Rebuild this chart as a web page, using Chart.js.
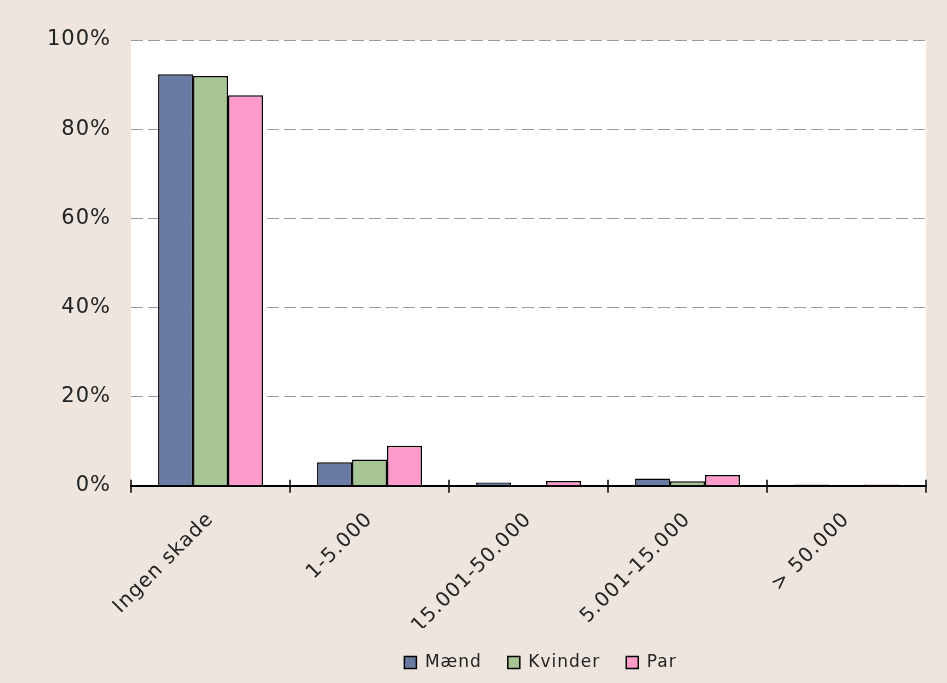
<!DOCTYPE html>
<html>
<head>
<meta charset="utf-8">
<script src="https://cdn.jsdelivr.net/npm/chart.js@4"></script>
<style>
  html, body { margin: 0; padding: 0; background: #EEE6DE; }
  #wrap { width: 947px; height: 683px; }
</style>
</head>
<body>
<div id="wrap"><canvas id="myChart" width="947" height="683"></canvas></div>
<script>
const kategorier = ['Ingen skade', '1-5.000', '15.001-50.000', '5.001-15.000', '> 50.000'];
const maend = [92.3, 5.3, 0.75, 1.65, 0.3];
const kvinder = [91.9, 5.9, 0.2, 1.0, 0.1];
const par = [87.6, 9.0, 1.05, 2.4, 0.3];
const yTicks = [0, 20, 40, 60, 80, 100];

// hvid plotflade, lidt bredere tekst og streger ved kategorigrænser
const plotBaggrund = {
  id: 'plotBaggrund',
  beforeUpdate(chart) { chart.ctx.letterSpacing = '1px'; },
  afterLayout(chart) {
    // legenden lidt til højre, ca. midt under plotfladen
    const lg = chart.legend;
    const ca = chart.chartArea;
    const skift = (ca.left + ca.right) / 2 + 12 - (lg.left + lg.right) / 2;
    lg.left += skift;
    lg.right += skift;
  },
  beforeDraw(chart) {
    const { ctx, chartArea } = chart;
    ctx.letterSpacing = '1px';
    ctx.save();
    ctx.fillStyle = '#ffffff';
    ctx.fillRect(chartArea.left, chartArea.top, chartArea.right - chartArea.left, chartArea.bottom - chartArea.top);
    ctx.restore();
  },
  afterDraw(chart) {
    const { ctx, scales } = chart;
    const x = scales.x;
    const y0 = scales.y.getPixelForValue(0);
    ctx.save();
    ctx.strokeStyle = '#000';
    ctx.lineWidth = 1.5;
    for (let i = 0; i <= kategorier.length; i++) {
      let px;
      if (i === 0) px = x.left;
      else if (i === kategorier.length) px = x.right;
      else px = (x.getPixelForValue(i - 1) + x.getPixelForValue(i)) / 2;
      ctx.beginPath();
      ctx.moveTo(px, y0 - 6);
      ctx.lineTo(px, y0 + 7);
      ctx.stroke();
    }
    ctx.restore();
  }
};

const familie = '"DejaVu Sans", Verdana, sans-serif';

new Chart(document.getElementById('myChart'), {
  type: 'bar',
  data: {
    labels: kategorier,
    datasets: [
      { label: 'Mænd', data: maend, backgroundColor: '#6A7BA3', borderColor: '#000', borderWidth: 1.5 },
      { label: 'Kvinder', data: kvinder, backgroundColor: '#A8C596', borderColor: '#000', borderWidth: 1.5 },
      { label: 'Par', data: par, backgroundColor: '#FF9BCB', borderColor: '#000', borderWidth: 1.5 }
    ]
  },
  options: {
    responsive: false,
    animation: false,
    layout: { padding: { top: 40, right: 21, left: 27, bottom: 2 } },
    datasets: { bar: { categoryPercentage: 0.66, barPercentage: 1.0 } },
    plugins: {
      legend: {
        position: 'bottom',
        labels: {
          color: '#222',
          font: { family: familie, size: 17 },
          boxWidth: 12,
          boxHeight: 12,
          padding: 26
        }
      },
      tooltip: { enabled: false }
    },
    scales: {
      x: {
        grid: { display: false },
        border: { display: true, color: '#000', width: 2 },
        ticks: {
          color: '#222',
          font: { family: familie, size: 20 },
          maxRotation: 45,
          minRotation: 45,
          padding: 14
        },
        // etiketterne må gerne gå ned i legendens luft
        afterFit(scale) { scale.height -= 24; }
      },
      y: {
        min: 0,
        max: 100,
        afterBuildTicks(axis) { axis.ticks = yTicks.map(v => ({ value: v })); },
        grid: { color: '#9A9A9A', lineWidth: 1, drawTicks: false },
        border: { display: false, dash: [12, 5] },
        ticks: {
          color: '#222',
          font: { family: familie, size: 21 },
          padding: 20,
          callback: v => v + '%'
        }
      }
    }
  },
  plugins: [plotBaggrund]
});
</script>
</body>
</html>
